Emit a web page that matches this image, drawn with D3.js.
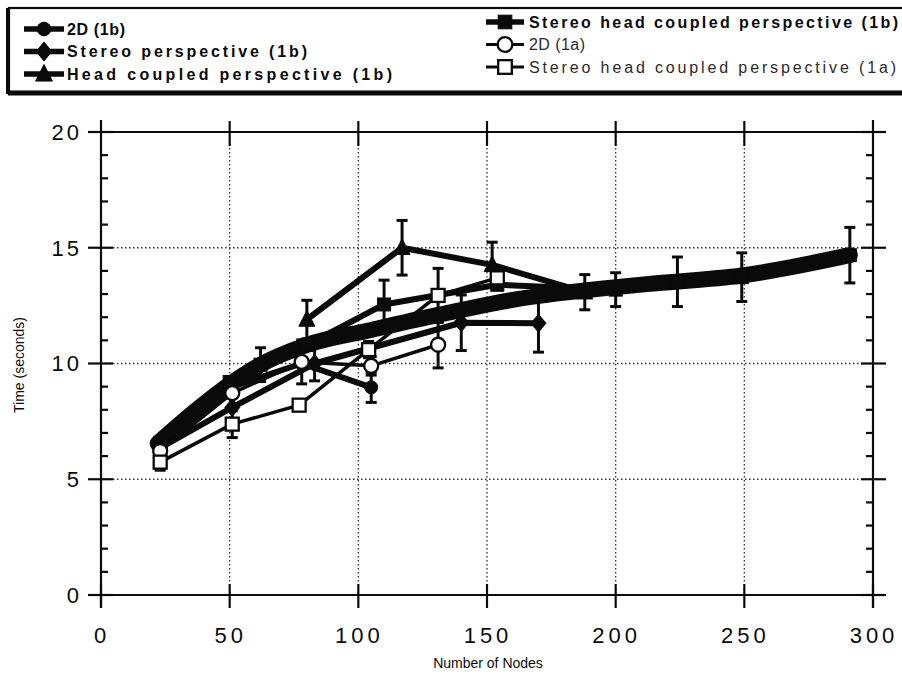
<!DOCTYPE html>
<html>
<head>
<meta charset="utf-8">
<script src="https://cdn.jsdelivr.net/npm/d3@7"></script>
<style>
  html, body { margin: 0; padding: 0; background: #fff; }
  svg { display: block; }
</style>
</head>
<body>
<svg id="chart" width="902" height="677"></svg>
<script>
// ---------------- DATA ----------------
const xTickValues = [0, 50, 100, 150, 200, 250, 300];
const yTickValues = [0, 5, 10, 15, 20];
const yMinorValues = [1, 2, 3, 4, 6, 7, 8, 9, 11, 12, 13, 14, 16, 17, 18, 19];
const xGridValues = [50, 100, 150, 200, 250];
const yGridValues = [5, 10, 15];

const xTitle = "Number of Nodes";
const yTitle = "Time (seconds)";

// 2D (1b) – filled circle
const d2D1bNodes = [23, 51, 78, 105];
const d2D1bTimes = [6.45, 9.0, 10.0, 8.97];
const d2D1bErr   = [0, 0, 0, 0.65];

// Stereo perspective (1b) – filled diamond
const stereo1bNodes = [23, 51, 83, 140, 170];
const stereo1bTimes = [6.35, 8.1, 10.0, 11.76, 11.74];
const stereo1bErr   = [0, 0, 0.75, 1.2, 1.25];

// Head coupled perspective (1b) – filled triangle
const head1bNodes = [80, 117, 152, 188];
const head1bTimes = [11.9, 15.0, 14.26, 13.08];
const head1bErr   = [0.83, 1.18, 0.98, 0.76];

// Stereo head coupled perspective (1b) – filled square
const shc1bNodes = [23, 50, 62, 80, 110, 154, 200, 224, 249, 291];
const shc1bTimes = [6.55, 9.2, 9.95, 10.8, 12.55, 13.4, 13.19, 13.53, 13.73, 14.68];
const shc1bErr   = [0, 0, 0.73, 0, 1.05, 0, 0.73, 1.07, 1.05, 1.2];

// 2D (1a) – open circle
const d2D1aNodes = [23, 51, 78, 105, 131];
const d2D1aTimes = [6.22, 8.72, 10.07, 9.9, 10.81];
const d2D1aErr   = [0, 0, 0.95, 0.4, 1.0];

// Stereo head coupled perspective (1a) – open square
const shc1aNodes = [23, 51, 77, 104, 131, 154];
const shc1aTimes = [5.74, 7.38, 8.2, 10.6, 12.94, 13.7];
const shc1aErr   = [0.35, 0.58, 0, 0.35, 1.17, 0];

// Overlapping 1b traces forming the heavy band
const bandNodes = [22, 35, 50, 62, 80, 105, 131, 160, 212, 249, 291];
const bandTimes = [6.55, 7.8, 9.1, 9.95, 10.8, 11.45, 12.1, 12.75, 13.43, 13.8, 14.68];

const seriesNames = [
  "2D (1b)",
  "Stereo perspective (1b)",
  "Head coupled perspective (1b)",
  "Stereo head coupled perspective (1b)",
  "2D (1a)",
  "Stereo head coupled perspective (1a)"
];

// ---------------- BUILD ----------------
const zip = (xs, ys, es) => xs.map((x, i) => ({ x, y: ys[i], e: es ? es[i] : 0 }));

const series = [
  { name: seriesNames[0], pts: zip(d2D1bNodes, d2D1bTimes, d2D1bErr), marker: "circle",   filled: true,  lw: 6 },
  { name: seriesNames[1], pts: zip(stereo1bNodes, stereo1bTimes, stereo1bErr), marker: "diamond", filled: true, lw: 6 },
  { name: seriesNames[2], pts: zip(head1bNodes, head1bTimes, head1bErr), marker: "triangle", filled: true, lw: 6 },
  { name: seriesNames[3], pts: zip(shc1bNodes, shc1bTimes, shc1bErr), marker: "square", filled: true, lw: 6 },
  { name: seriesNames[4], pts: zip(d2D1aNodes, d2D1aTimes, d2D1aErr), marker: "circle", filled: false, lw: 3.5 },
  { name: seriesNames[5], pts: zip(shc1aNodes, shc1aTimes, shc1aErr), marker: "square", filled: false, lw: 3.5 }
];

const svg = d3.select("#chart");
const x = d3.scaleLinear().domain([0, 300]).range([101, 873]);
const y = d3.scaleLinear().domain([0, 20]).range([595, 132]);

const INK = "#0a0a0a";
const FONT = "Liberation Sans, Arial, Helvetica, sans-serif";

// grid
const grid = svg.append("g");
grid.selectAll("line.vg").data(xGridValues).join("line")
  .attr("x1", d => x(d)).attr("x2", d => x(d))
  .attr("y1", y(20)).attr("y2", y(0))
  .attr("stroke", "#333").attr("stroke-width", 1.3).attr("stroke-dasharray", "1.5,2.5");
grid.selectAll("line.hg").data(yGridValues).join("line")
  .attr("x1", x(0)).attr("x2", x(300))
  .attr("y1", d => y(d)).attr("y2", d => y(d))
  .attr("stroke", "#333").attr("stroke-width", 1.3).attr("stroke-dasharray", "1.5,2.5");

// frame
const frame = svg.append("g").attr("stroke", INK).attr("stroke-width", 2.2).attr("fill", "none");
frame.append("line").attr("x1", x(0)).attr("x2", x(0)).attr("y1", y(20) - 12).attr("y2", y(0) + 12);
frame.append("line").attr("x1", x(300)).attr("x2", x(300)).attr("y1", y(20) - 12).attr("y2", y(0) + 12);
frame.append("line").attr("x1", x(0) - 12).attr("x2", x(300) + 12).attr("y1", y(0)).attr("y2", y(0));
frame.append("line").attr("x1", x(0)).attr("x2", x(300)).attr("y1", y(20)).attr("y2", y(20));

// y major ticks (both sides)
frame.selectAll("line.ylm").data(yTickValues).join("line")
  .attr("x1", x(0) - 13).attr("x2", x(0) + 12).attr("y1", d => y(d)).attr("y2", d => y(d));
frame.selectAll("line.yrm").data(yTickValues).join("line")
  .attr("x1", x(300) - 12).attr("x2", x(300) + 13).attr("y1", d => y(d)).attr("y2", d => y(d));
frame.selectAll("line.ylmin").data(yMinorValues).join("line")
  .attr("x1", x(0)).attr("x2", x(0) + 7).attr("y1", d => y(d)).attr("y2", d => y(d));
frame.selectAll("line.yrmin").data(yMinorValues).join("line")
  .attr("x1", x(300) - 7).attr("x2", x(300)).attr("y1", d => y(d)).attr("y2", d => y(d));
// x ticks top and bottom
frame.selectAll("line.xb").data(xTickValues).join("line")
  .attr("x1", d => x(d)).attr("x2", d => x(d)).attr("y1", y(0) - 11).attr("y2", y(0) + 13);
frame.selectAll("line.xt").data(xTickValues.filter(v => v > 0 && v < 300)).join("line")
  .attr("x1", d => x(d)).attr("x2", d => x(d)).attr("y1", y(20) - 11).attr("y2", y(20) + 14);

// tick labels
svg.append("g").selectAll("text").data(yTickValues).join("text")
  .attr("x", 82).attr("y", d => y(d)).attr("dy", "0.36em")
  .attr("text-anchor", "end")
  .attr("font-family", FONT).attr("font-size", 22)
  .attr("letter-spacing", 3).attr("fill", INK)
  .text(d => d);
svg.append("g").selectAll("text").data(xTickValues).join("text")
  .attr("x", d => x(d) + 1).attr("y", 643)
  .attr("text-anchor", "middle")
  .attr("font-family", FONT).attr("font-size", 22)
  .attr("letter-spacing", 4).attr("fill", INK)
  .text(d => d);

// axis titles
svg.append("text").attr("x", 488).attr("y", 668).attr("text-anchor", "middle")
  .attr("font-family", FONT).attr("font-size", 14)
  .attr("fill", INK).text(xTitle);
svg.append("text").attr("transform", "translate(24,365) rotate(-90)").attr("text-anchor", "middle")
  .attr("font-family", FONT).attr("font-size", 14)
  .attr("fill", INK).text(yTitle);

// band
const band = zip(bandNodes, bandTimes);
svg.append("path").datum(band)
  .attr("d", d3.line().x(d => x(d.x)).y(d => y(d.y)).curve(d3.curveMonotoneX))
  .attr("fill", "none").attr("stroke", INK).attr("stroke-width", 16)
  .attr("stroke-linecap", "round").attr("stroke-linejoin", "round");

// lines
const lineGen = d3.line().x(d => x(d.x)).y(d => y(d.y));
svg.append("g").selectAll("path").data(series).join("path")
  .attr("d", s => lineGen(s.pts))
  .attr("fill", "none").attr("stroke", INK).attr("stroke-width", s => s.lw)
  .attr("stroke-linejoin", "round");

// error bars
const eb = svg.append("g").attr("stroke", INK).attr("stroke-width", 3);
series.forEach(s => {
  const pts = s.pts.filter(p => p.e > 0);
  eb.selectAll(null).data(pts).join("line")
    .attr("x1", p => x(p.x)).attr("x2", p => x(p.x))
    .attr("y1", p => y(p.y - p.e)).attr("y2", p => y(p.y + p.e));
  eb.selectAll(null).data(pts).join("line")
    .attr("x1", p => x(p.x) - 5.5).attr("x2", p => x(p.x) + 5.5)
    .attr("y1", p => y(p.y + p.e)).attr("y2", p => y(p.y + p.e));
  eb.selectAll(null).data(pts).join("line")
    .attr("x1", p => x(p.x) - 5.5).attr("x2", p => x(p.x) + 5.5)
    .attr("y1", p => y(p.y - p.e)).attr("y2", p => y(p.y - p.e));
});

// markers
function drawMarker(g, type, filled, cx, cy, scale) {
  scale = scale || 1;
  const fill = filled ? INK : "#fff";
  const sw = filled ? 1 : 2.3;
  if (type === "circle") {
    g.append("circle").attr("cx", cx).attr("cy", cy).attr("r", (filled ? 6.5 : 7) * scale)
      .attr("fill", fill).attr("stroke", INK).attr("stroke-width", sw);
  } else if (type === "square") {
    const h = 6.5 * scale;
    g.append("rect").attr("x", cx - h).attr("y", cy - h).attr("width", 2 * h).attr("height", 2 * h)
      .attr("fill", fill).attr("stroke", INK).attr("stroke-width", sw);
  } else if (type === "diamond") {
    const w = 7.5 * scale, h = 9 * scale;
    g.append("path").attr("d", `M${cx},${cy - h}L${cx + w},${cy}L${cx},${cy + h}L${cx - w},${cy}Z`)
      .attr("fill", fill).attr("stroke", INK).attr("stroke-width", sw);
  } else if (type === "triangle") {
    const w = 8 * scale, h = 9 * scale;
    g.append("path").attr("d", `M${cx},${cy - h}L${cx + w},${cy + h * 0.75}L${cx - w},${cy + h * 0.75}Z`)
      .attr("fill", fill).attr("stroke", INK).attr("stroke-width", sw);
  }
}
const mk = svg.append("g");
series.filter(s => s.filled).concat(series.filter(s => !s.filled)).forEach(s => {
  s.pts.forEach(p => drawMarker(mk, s.marker, s.filled, x(p.x), y(p.y)));
});

// legend
const lg = svg.append("g");
lg.append("rect").attr("x", 9).attr("y", 8).attr("width", 905).attr("height", 84)
  .attr("fill", "#fff").attr("stroke", INK).attr("stroke-width", 2.2);
lg.append("line").attr("x1", 8).attr("x2", 8).attr("y1", 8).attr("y2", 94)
  .attr("stroke", INK).attr("stroke-width", 4);
lg.append("line").attr("x1", 8).attr("x2", 902).attr("y1", 93).attr("y2", 93)
  .attr("stroke", INK).attr("stroke-width", 5);

const legendLayout = [
  { lx1: 24, lx2: 64, mx: 44, tx: 67, y: 29, len: 58 },
  { lx1: 24, lx2: 64, mx: 44, tx: 67, y: 51.5, len: 240 },
  { lx1: 24, lx2: 64, mx: 44, tx: 67, y: 74, len: 325 },
  { lx1: 486, lx2: 524, mx: 505, tx: 529, y: 22, len: 369 },
  { lx1: 486, lx2: 524, mx: 505, tx: 529, y: 44.5, len: 56 },
  { lx1: 486, lx2: 524, mx: 505, tx: 529, y: 67, len: 367 }
];
series.forEach((s, i) => {
  const L = legendLayout[i];
  lg.append("line").attr("x1", L.lx1).attr("x2", L.lx2).attr("y1", L.y).attr("y2", L.y)
    .attr("stroke", INK).attr("stroke-width", s.filled ? 5.5 : 3);
  drawMarker(lg, s.marker, s.filled, L.mx, L.y, 1.05);
  lg.append("text").attr("x", L.tx).attr("y", L.y).attr("dy", "0.36em")
    .attr("font-family", FONT).attr("font-size", 16)
    .attr("font-weight", s.filled ? "bold" : "normal")
    .attr("textLength", L.len).attr("lengthAdjust", "spacing")
    .attr("fill", s.filled ? INK : "#2a2a2a")
    .text(s.name);
});
</script>
</body>
</html>
